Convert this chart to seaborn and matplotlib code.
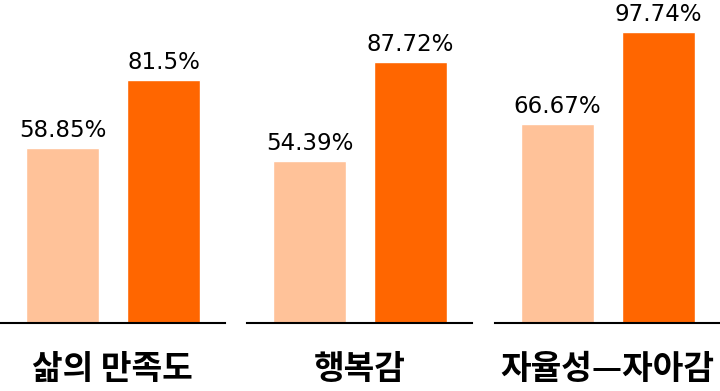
import pandas as pd
import seaborn as sns
import matplotlib.pyplot as plt

# values
categories = ['삶의 만족도', '행복감', '자율성—자아감']
light_values = [58.85, 54.39, 66.67]
dark_values = [81.5, 87.72, 97.74]
value_labels_light = ['58.85%', '54.39%', '66.67%']
value_labels_dark = ['81.5%', '87.72%', '97.74%']

colors = ['#FFC299', '#FF6600']

sns.set_theme(style='white')
plt.rcParams['font.family'] = ['Noto Sans CJK KR', 'DejaVu Sans']
plt.rcParams['text.color'] = 'black'

fig = plt.figure(figsize=(7.2, 3.91), dpi=100)

W, H = 720, 391
base_y = 323
ax_w = 225
lefts = [0, 247, 495]

for i, cat in enumerate(categories):
    ax = fig.add_axes([lefts[i] / W, 1 - base_y / H, ax_w / W, base_y / H])
    df = pd.DataFrame({'series': ['a', 'b'],
                       'value': [light_values[i], dark_values[i]]})
    sns.barplot(data=df, x='series', y='value', hue='series',
                palette=dict(zip(['a', 'b'], colors)), width=0.723,
                legend=False, ax=ax, saturation=1)
    ax.set_xlim(-0.619, 1.609)
    ax.set_ylim(0, 108.4)
    # value labels above the bars
    for j, lab in enumerate([value_labels_light[i], value_labels_dark[i]]):
        v = df['value'][j]
        ax.text(j, v + 3.7, lab, ha='center', va='baseline', fontsize=16.5,
                family='DejaVu Sans', color='black')
    for s in ['top', 'left', 'right']:
        ax.spines[s].set_visible(False)
    ax.spines['bottom'].set_color('black')
    ax.spines['bottom'].set_linewidth(1.5)
    ax.set_xticks([])
    ax.set_yticks([])
    ax.set_xlabel('')
    ax.set_ylabel('')
    ax.patch.set_alpha(0)
    ax.text(0.5, -46 / base_y, cat, transform=ax.transAxes, ha='center',
            va='center', fontsize=24, fontweight='bold', color='black')

fig.savefig('out.png', dpi=100)
